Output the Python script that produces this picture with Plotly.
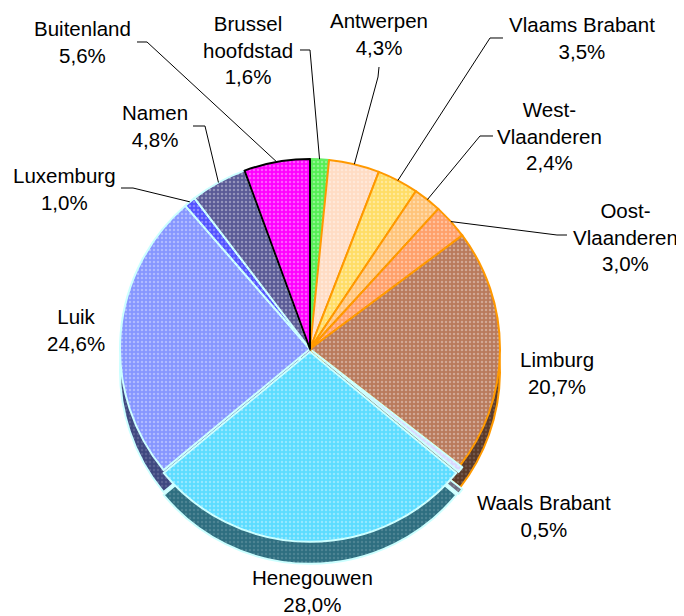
import plotly.graph_objects as go
import math

# ---- data ----
regions = ["Brussel hoofdstad", "Antwerpen", "Vlaams Brabant", "West-Vlaanderen",
           "Oost-Vlaanderen", "Limburg", "Waals Brabant", "Henegouwen", "Luik",
           "Luxemburg", "Namen", "Buitenland"]
label_text = ["Brussel<br>hoofdstad", "Antwerpen", "Vlaams Brabant", "West-<br>Vlaanderen",
              "Oost-<br>Vlaanderen", "Limburg", "Waals Brabant", "Henegouwen", "Luik",
              "Luxemburg", "Namen", "Buitenland"]
shares = [1.6, 4.3, 3.5, 2.4, 3.0, 20.7, 0.5, 28.0, 24.6, 1.0, 4.8, 5.6]

# ---- styles ----
top_colors = ["#55EE55", "#FFDCC4", "#FFDD66", "#FFC47A", "#FFA06A", "#B97A5C",
              "#D8D8FF", "#5CDCFF", "#8696FF", "#5252FF", "#5A5A96", "#FF00FF"]
side_colors = ["#2A772A", "#806E62", "#806F33", "#80623D", "#805035", "#5A3A2A",
               "#6C6C80", "#2E6E80", "#3E4880", "#29297F", "#2D2D4B", "#800080"]
line_colors = ["#66EE66", "#FF9900", "#FF9900", "#FF9900", "#FF9900", "#FF9900",
               "#CCFFFF", "#CCFFFF", "#CCFFFF", "#CCFFFF", "#CCFFFF", "#000000"]
pulls = [0, 0, 0, 0, 0, 0, 0.015, 0.015, 0, 0, 0, 0]

W, H = 684, 616
OFF = 8  # default page body margin in the browser
cx, cy, R = 310, 349, 190   # pie centre/radius in screen pixels
depth = 22
maxpull = max(pulls)
half = R * (1 + maxpull)


def P(x, y):
    """screen pixel -> paper fraction"""
    return (x - OFF) / W, 1 - (y - OFF) / H


def dom(cyy):
    x0, y1 = P(cx - half, cyy - half)
    x1, y0 = P(cx + half, cyy + half)
    return dict(x=[x0, x1], y=[y0, y1])


fig = go.Figure()
# side wall (3D depth)
fig.add_trace(go.Pie(
    labels=regions, values=shares, sort=False, direction="clockwise", rotation=0,
    pull=pulls, textinfo="none", hoverinfo="skip", domain=dom(cy + depth),
    marker=dict(colors=side_colors, line=dict(color=line_colors, width=2),
                pattern=dict(shape=".", fgcolor="white", fgopacity=0.15, size=4,
                             solidity=0.3, bgcolor=side_colors)),
    showlegend=False))
# top face
fig.add_trace(go.Pie(
    labels=regions, values=shares, sort=False, direction="clockwise", rotation=0,
    pull=pulls, textinfo="none", hoverinfo="label+percent", domain=dom(cy),
    marker=dict(colors=top_colors, line=dict(color=line_colors, width=2),
                pattern=dict(shape=".", fgcolor="white", fgopacity=0.35, size=4,
                             solidity=0.3, bgcolor=top_colors)),
    showlegend=False))

# label positions (text block centres, screen px) and elbow points for leaders
label_pos = {
    "Brussel hoofdstad": (248, 50), "Antwerpen": (379, 34), "Vlaams Brabant": (582, 38),
    "West-Vlaanderen": (549, 136), "Oost-Vlaanderen": (625, 237), "Limburg": (557, 373),
    "Waals Brabant": (544, 516), "Henegouwen": (312, 591), "Luik": (76, 330),
    "Luxemburg": (64, 189), "Namen": (155, 126), "Buitenland": (82, 42),
}
elbows = {
    "Brussel hoofdstad": [(300, 50), (310, 50)],
    "Antwerpen": [(379, 67), (378, 77)],
    "Vlaams Brabant": [(503, 38), (490, 38)],
    "West-Vlaanderen": [(493, 136), (480, 136)],
    "Oost-Vlaanderen": [(567, 235), (557, 235)],
    "Luxemburg": [(121, 188), (133, 188)],
    "Namen": [(193, 126), (205, 126)],
    "Buitenland": [(137, 42), (147, 42)],
}

annotations = []
shapes = []
cum = 0.0
for name, txt, v, pl in zip(regions, label_text, shares, pulls):
    mid = cum + v / 2
    cum += v
    th = math.radians(90 - 360 * mid / 100)
    r = R * (1 + pl)
    ex, ey = cx + r * math.cos(th), cy - r * math.sin(th)
    lx, ly = label_pos[name]
    xx, yy = P(lx, ly)
    annotations.append(dict(x=xx, y=yy, xref="paper", yref="paper", showarrow=False,
                            text=f"{txt}<br>{v:.1f}%".replace(".", ","),
                            font=dict(family="Liberation Sans, Arial", size=20.5, color="black"),
                            xanchor="center", yanchor="middle", align="center",
                            borderpad=0))
    if name in elbows:
        pts = elbows[name] + [(ex, ey)]
        path = "M " + " L ".join(f"{P(a, b)[0]:.5f},{P(a, b)[1]:.5f}" for a, b in pts)
        shapes.append(dict(type="path", path=path, xref="paper", yref="paper",
                           line=dict(color="black", width=1)))

fig.update_layout(width=W, height=H, margin=dict(l=0, r=0, t=0, b=0),
                  paper_bgcolor="white", plot_bgcolor="white",
                  annotations=annotations, shapes=shapes, showlegend=False)
fig.write_html("out.html")
